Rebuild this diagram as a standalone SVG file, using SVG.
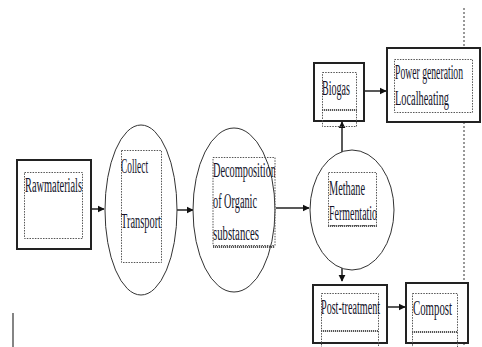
<svg xmlns="http://www.w3.org/2000/svg" width="482" height="347" viewBox="0 0 482 347">
  <style>
    .box { fill: #fff; stroke: #222; stroke-width: 2; }
    .oval { fill: #fff; stroke: #333; stroke-width: 1; }
    .frame { fill: none; stroke: #555; stroke-width: 1; stroke-dasharray: 1.5 1.2; }
    .thick { fill: none; stroke: #555; stroke-width: 2; stroke-dasharray: 1.2 0.8; }
    .edge { stroke: #222; stroke-width: 1.5; fill: none; }
    .guide { stroke: #333; stroke-width: 1; stroke-dasharray: 2 2; fill: none; }
    text { font-family: "Liberation Serif", "Times New Roman", serif; font-size: 20px; fill: #14142a; }
  </style>
  <defs>
    <marker id="arrow" viewBox="0 0 10 10" refX="9" refY="5" markerWidth="7" markerHeight="8" markerUnits="userSpaceOnUse" orient="auto">
      <path d="M0,0 L10,5 L0,10 z" fill="#111"/>
    </marker>
    <clipPath id="clipMethane"><rect x="328" y="160" width="49" height="70"/></clipPath>
    <clipPath id="clipDecomp"><rect x="212" y="155" width="63" height="95"/></clipPath>
  </defs>
  <rect width="482" height="347" fill="#fff"/>

  <!-- dashed guide at right edge -->
  <g id="guide">
    <line class="guide" x1="464" y1="8" x2="464" y2="48"/>
    <line class="guide" x1="464" y1="122" x2="464" y2="283"/>
    <line class="guide" x1="464" y1="343" x2="464" y2="347"/>
    <line x1="13" y1="313" x2="13" y2="347" stroke="#333" stroke-width="1.2"/>
  </g>

  <g id="connectors">
    <line class="edge" x1="91" y1="209" x2="104" y2="209" marker-end="url(#arrow)"/>
    <line class="edge" x1="177" y1="210" x2="193" y2="210" marker-end="url(#arrow)"/>
    <line class="edge" x1="276" y1="208" x2="309" y2="208" marker-end="url(#arrow)"/>
    <line class="edge" x1="342" y1="152" x2="342" y2="122" marker-end="url(#arrow)"/>
    <line class="edge" x1="342" y1="268" x2="342" y2="281" marker-end="url(#arrow)"/>
    <line class="edge" x1="364" y1="91" x2="386" y2="91" marker-end="url(#arrow)"/>
    <line class="edge" x1="387" y1="307" x2="405" y2="307" marker-end="url(#arrow)"/>
  </g>

  <g id="raw-materials">
    <rect class="box" x="17" y="160" width="74" height="89"/>
    <rect class="frame" x="24.5" y="172.5" width="58" height="66"/>
    <text x="25" y="192" textLength="57" lengthAdjust="spacingAndGlyphs">Rawmaterials</text>
  </g>

  <g id="collect-transport">
    <ellipse class="oval" cx="141" cy="210" rx="36" ry="85"/>
    <rect class="frame" x="121.5" y="150.5" width="40" height="112"/>
    <text x="121" y="173" textLength="27" lengthAdjust="spacingAndGlyphs">Collect</text>
    <text x="121" y="228" textLength="40" lengthAdjust="spacingAndGlyphs">Transport</text>
  </g>

  <g id="decomposition">
    <ellipse class="oval" cx="234" cy="210" rx="41" ry="82"/>
    <rect class="frame" x="213" y="157.5" width="62" height="88"/>
    <line class="thick" x1="213" y1="247" x2="275" y2="247"/>
    <g clip-path="url(#clipDecomp)">
      <text x="213" y="177" textLength="63" lengthAdjust="spacingAndGlyphs">Decomposition</text>
      <text x="213" y="208" textLength="44" lengthAdjust="spacingAndGlyphs">of Organic</text>
      <text x="213" y="240" textLength="46" lengthAdjust="spacingAndGlyphs">substances</text>
    </g>
  </g>

  <g id="methane-fermentation">
    <ellipse class="oval" cx="352" cy="210" rx="42" ry="60"/>
    <rect class="frame" x="328.5" y="172.5" width="48" height="53"/>
    <line class="thick" x1="328" y1="226" x2="377" y2="226"/>
    <g clip-path="url(#clipMethane)">
      <text x="329" y="195" textLength="36" lengthAdjust="spacingAndGlyphs">Methane</text>
      <text x="329" y="220" textLength="53" lengthAdjust="spacingAndGlyphs">Fermentation</text>
    </g>
  </g>

  <g id="biogas">
    <rect class="box" x="314" y="63" width="50" height="58"/>
    <rect class="frame" x="322.5" y="72.5" width="34" height="54"/>
    <line class="thick" x1="322" y1="110" x2="357" y2="110"/>
    <text x="322" y="95" textLength="28" lengthAdjust="spacingAndGlyphs">Biogas</text>
  </g>

  <g id="power-heating">
    <rect class="box" x="387" y="48" width="93" height="74"/>
    <rect class="frame" x="394.5" y="59.5" width="78" height="53"/>
    <text x="395" y="79" textLength="68" lengthAdjust="spacingAndGlyphs">Power generation</text>
    <text x="395" y="105" textLength="54" lengthAdjust="spacingAndGlyphs">Localheating</text>
  </g>

  <g id="post-treatment">
    <rect class="box" x="313" y="285" width="74" height="58"/>
    <rect class="frame" x="321.5" y="293.5" width="57" height="54"/>
    <line class="thick" x1="321" y1="331" x2="378" y2="331"/>
    <text x="321" y="314" textLength="59" lengthAdjust="spacingAndGlyphs">Post-treatment</text>
  </g>

  <g id="compost">
    <rect class="box" x="406" y="283" width="62" height="60"/>
    <rect class="frame" x="412.5" y="293.5" width="45" height="54"/>
    <line class="thick" x1="412" y1="332" x2="458" y2="332"/>
    <text x="413" y="315" textLength="39" lengthAdjust="spacingAndGlyphs">Compost</text>
  </g>
</svg>
